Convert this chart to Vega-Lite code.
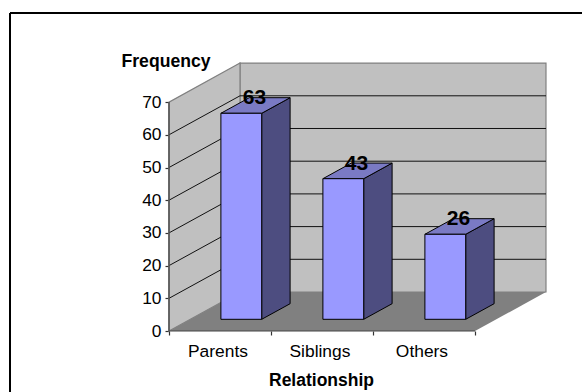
{
  "$schema": "https://vega.github.io/schema/vega-lite/v6.json",
  "autosize": "none",
  "width": 572,
  "height": 379,
  "padding": {"left": 10, "top": 13, "right": 0, "bottom": 0},
  "background": "white",
  "config": {
    "view": {"stroke": null},
    "font": "Liberation Sans",
    "axis": {"labelFont": "Liberation Sans", "titleFont": "Liberation Sans", "labelColor": "black", "titleColor": "black", "grid": false}
  },
  "datasets": {
    "bars": [
      {"relationship": "Parents", "frequency": 63},
      {"relationship": "Siblings", "frequency": 43},
      {"relationship": "Others", "frequency": 26}
    ],
    "gridValues": [
      {"level": 10}, {"level": 20}, {"level": 30}, {"level": 40}, {"level": 50}, {"level": 60}
    ],
    "depthEnds": [{"d": 0}, {"d": 1}]
  },
  "encoding": {
    "x": {"field": "X", "type": "quantitative", "scale": {"domain": [-1.5588, 4.049], "nice": false, "zero": false}, "axis": null},
    "y": {"field": "Y", "type": "quantitative", "scale": {"domain": [-18.65, 97.25], "nice": false, "zero": false}, "axis": null}
  },
  "layer": [
    {
      "description": "Outer chart frame, top edge",
      "data": {"values": [{}]},
      "transform": [
        {"calculate": "-1.5588", "as": "X"}, {"calculate": "4.049", "as": "X2"}, {"calculate": "97.25", "as": "Y"}
      ],
      "mark": {"type": "rule", "color": "black", "strokeWidth": 2, "clip": false},
      "encoding": {"x2": {"field": "X2"}}
    },
    {
      "description": "Outer chart frame, left edge",
      "data": {"values": [{}]},
      "transform": [
        {"calculate": "-1.5588", "as": "X"}, {"calculate": "-18.65", "as": "Y"}, {"calculate": "97.25", "as": "Y2"}
      ],
      "mark": {"type": "rule", "color": "black", "strokeWidth": 2, "clip": false},
      "encoding": {"y2": {"field": "Y2"}}
    },
    {
      "description": "Back wall",
      "data": {"values": [{}]},
      "transform": [
        {"calculate": "0.696", "as": "X"}, {"calculate": "3.696", "as": "X2"},
        {"calculate": "11.93", "as": "Y"}, {"calculate": "81.93", "as": "Y2"}
      ],
      "mark": {"type": "rect", "fill": "#c0c0c0", "stroke": "#808080", "strokeWidth": 1.2},
      "encoding": {"x2": {"field": "X2"}, "y2": {"field": "Y2"}}
    },
    {
      "description": "Left wall, sheared from the front plane to the back plane",
      "data": {"name": "depthEnds"},
      "transform": [
        {"calculate": "0.696 * datum.d", "as": "X"},
        {"calculate": "11.93 * datum.d", "as": "Y"},
        {"calculate": "70 + 11.93 * datum.d", "as": "Y2"}
      ],
      "mark": {"type": "area", "fill": "#c0c0c0", "stroke": "#808080", "strokeWidth": 1.2, "orient": "vertical"},
      "encoding": {"y2": {"field": "Y2"}}
    },
    {
      "description": "Gridlines on the back wall",
      "data": {"name": "gridValues"},
      "transform": [
        {"calculate": "0.696", "as": "X"}, {"calculate": "3.696", "as": "X2"},
        {"calculate": "datum.level + 11.93", "as": "Y"}
      ],
      "mark": {"type": "rule", "color": "#111111", "strokeWidth": 1},
      "encoding": {"x2": {"field": "X2"}}
    },
    {
      "description": "Gridlines running across the left wall",
      "data": {"name": "gridValues"},
      "transform": [
        {"calculate": "0", "as": "X"}, {"calculate": "0.696", "as": "X2"},
        {"calculate": "datum.level", "as": "Y"}, {"calculate": "datum.level + 11.93", "as": "Y2"}
      ],
      "mark": {"type": "rule", "color": "#111111", "strokeWidth": 1},
      "encoding": {"x2": {"field": "X2"}, "y2": {"field": "Y2"}}
    },
    {
      "description": "Floor",
      "data": {"name": "depthEnds"},
      "transform": [
        {"calculate": "0.696 * datum.d", "as": "X"},
        {"calculate": "3 + 0.696 * datum.d", "as": "X2"},
        {"calculate": "11.93 * datum.d", "as": "Y"}
      ],
      "mark": {"type": "area", "fill": "#808080", "orient": "horizontal"},
      "encoding": {"x2": {"field": "X2"}}
    },
    {
      "description": "Front edge of the floor",
      "data": {"values": [{}]},
      "transform": [
        {"calculate": "0", "as": "X"}, {"calculate": "3", "as": "X2"}, {"calculate": "0", "as": "Y"}
      ],
      "mark": {"type": "rule", "color": "#444444", "strokeWidth": 1.2},
      "encoding": {"x2": {"field": "X2"}}
    },
    {
      "description": "Upright edge of the left wall",
      "data": {"values": [{}]},
      "transform": [
        {"calculate": "0", "as": "X"}, {"calculate": "0", "as": "Y"}, {"calculate": "70", "as": "Y2"}
      ],
      "mark": {"type": "rule", "color": "#555555", "strokeWidth": 1.6},
      "encoding": {"y2": {"field": "Y2"}}
    },
    {
      "description": "Right-hand side face of each bar",
      "data": {"name": "bars"},
      "transform": [
        {"calculate": "indexof(['Parents','Siblings','Others'], datum.relationship)", "as": "slot"},
        {"calculate": "[0.3, 0.7]", "as": "d"},
        {"flatten": ["d"]},
        {"calculate": "datum.slot + 0.7 + 0.696 * datum.d", "as": "X"},
        {"calculate": "11.93 * datum.d", "as": "Y"},
        {"calculate": "datum.frequency + 11.93 * datum.d", "as": "Y2"}
      ],
      "mark": {"type": "area", "fill": "#4d4d80", "stroke": "black", "strokeWidth": 1, "orient": "vertical"},
      "encoding": {"y2": {"field": "Y2"}, "detail": {"field": "relationship"}}
    },
    {
      "description": "Top face of each bar",
      "data": {"name": "bars"},
      "transform": [
        {"calculate": "indexof(['Parents','Siblings','Others'], datum.relationship)", "as": "slot"},
        {"calculate": "[0.3, 0.7]", "as": "d"},
        {"flatten": ["d"]},
        {"calculate": "datum.slot + 0.3 + 0.696 * datum.d", "as": "X"},
        {"calculate": "datum.slot + 0.7 + 0.696 * datum.d", "as": "X2"},
        {"calculate": "datum.frequency + 11.93 * datum.d", "as": "Y"}
      ],
      "mark": {"type": "area", "fill": "#7a7ac4", "stroke": "black", "strokeWidth": 1, "orient": "horizontal"},
      "encoding": {"x2": {"field": "X2"}, "detail": {"field": "relationship"}}
    },
    {
      "description": "Front face of each bar",
      "data": {"name": "bars"},
      "transform": [
        {"calculate": "indexof(['Parents','Siblings','Others'], datum.relationship)", "as": "slot"},
        {"calculate": "datum.slot + 0.3 + 0.2088", "as": "X"},
        {"calculate": "datum.slot + 0.7 + 0.2088", "as": "X2"},
        {"calculate": "3.579", "as": "Y"},
        {"calculate": "datum.frequency + 3.579", "as": "Y2"}
      ],
      "mark": {"type": "rect", "fill": "#9999ff", "stroke": "black", "strokeWidth": 1},
      "encoding": {"x2": {"field": "X2"}, "y2": {"field": "Y2"}}
    },
    {
      "description": "Value labels sitting on the bar tops",
      "data": {"name": "bars"},
      "transform": [
        {"calculate": "indexof(['Parents','Siblings','Others'], datum.relationship)", "as": "slot"},
        {"calculate": "datum.slot + 0.5 + 0.348", "as": "X"},
        {"calculate": "datum.frequency + 5.965", "as": "Y"}
      ],
      "mark": {"type": "text", "font": "Liberation Sans", "fontWeight": "bold", "fontSize": 21, "color": "black", "baseline": "alphabetic", "dy": -1, "dx": -1},
      "encoding": {"text": {"field": "frequency", "type": "quantitative"}}
    },
    {
      "description": "Vertical axis with its title",
      "data": {"values": [{}]},
      "mark": {"type": "point", "opacity": 0},
      "encoding": {
        "x": {"datum": 0, "type": "quantitative", "scale": {"domain": [-1.5588, 4.049], "nice": false, "zero": false}, "axis": null},
        "y": {"datum": 0, "type": "quantitative", "scale": {"domain": [-18.65, 97.25], "nice": false, "zero": false},
          "axis": {"title": "Frequency", "orient": "left", "offset": -159, "values": [0, 10, 20, 30, 40, 50, 60, 70], "domain": false,
            "tickColor": "#333333", "tickSize": 4, "tickWidth": 1.2, "labelFontSize": 17.4, "labelPadding": 4, "labelFlush": false,
            "titleFontSize": 17.6, "titleFontWeight": "bold", "titleAngle": 0, "titleAlign": "center", "titleBaseline": "alphabetic", "titleAnchor": null, "titleX": -3.5, "titleY": 53}}
      }
    },
    {
      "description": "Category labels and horizontal axis title",
      "data": {"values": [{}]},
      "mark": {"type": "point", "opacity": 0},
      "encoding": {
        "x": {"datum": 0, "type": "quantitative", "scale": {"domain": [-1.5588, 4.049], "nice": false, "zero": false},
          "axis": {"title": "Relationship", "orient": "bottom", "offset": -61, "values": [0.475, 1.475, 2.475], "domain": false, "ticks": false,
            "labelExpr": "['Parents','Siblings','Others'][floor(datum.value)]", "labelFontSize": 17.4, "labelPadding": 11, "labelFlush": false,
            "titleFontSize": 17.5, "titleFontWeight": "bold", "titleAnchor": null, "titleX": 311, "titleY": 54, "titleBaseline": "alphabetic"}},
        "y": {"datum": 0, "type": "quantitative", "scale": {"domain": [-18.65, 97.25], "nice": false, "zero": false}, "axis": null}
      }
    },
    {
      "description": "Tick marks between the categories",
      "data": {"values": [{}]},
      "mark": {"type": "point", "opacity": 0},
      "encoding": {
        "x": {"datum": 0, "type": "quantitative", "scale": {"domain": [-1.5588, 4.049], "nice": false, "zero": false},
          "axis": {"title": null, "orient": "bottom", "offset": -61, "values": [0, 1, 2, 3], "domain": false, "labels": false, "tickColor": "#333333", "tickSize": 4, "tickWidth": 1.2}},
        "y": {"datum": 0, "type": "quantitative", "scale": {"domain": [-18.65, 97.25], "nice": false, "zero": false}, "axis": null}
      }
    }
  ],
  "resolve": {"axis": {"x": "independent", "y": "independent"}}
}
